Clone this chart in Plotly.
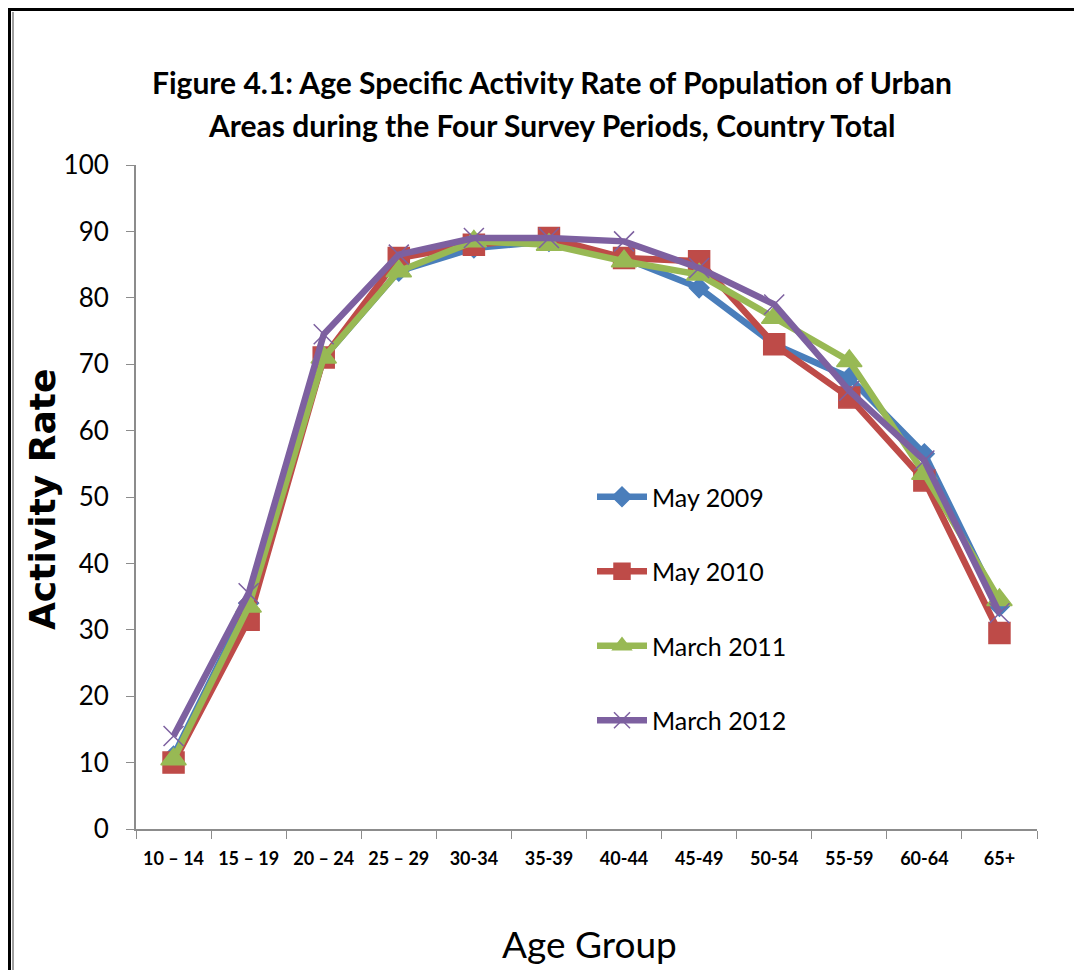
import plotly.graph_objects as go

# Age groups on the x axis
age_groups = ["10 \u2013 14", "15 \u2013 19", "20 \u2013 24", "25 \u2013 29", "30-34", "35-39",
              "40-44", "45-49", "50-54", "55-59", "60-64", "65+"]

# Activity rate per survey
may_2009 = [11, 34, 71, 84, 87.5, 88.5, 86, 81.5, 73, 68, 56.5, 33.5]
may_2010 = [10, 31.5, 71, 86, 88, 89, 86, 85.5, 73, 65, 52.5, 29.5]
march_2011 = [10.5, 33.5, 71, 84, 88.5, 88, 85.5, 83.5, 77, 70.5, 53.5, 34.5]
march_2012 = [14, 35.5, 74.5, 86.5, 89, 89, 88.5, 84.5, 79, 66, 55.5, 32.5]

FONT = "Lato, Open Sans, sans-serif"
OFF = 8  # page body margin
W, H = 1082 - OFF, 970 - OFF
PL, PR, PT, PB = 136, 1037, 165, 829   # plot area in page pixels

fig = go.Figure()

series = [
    ("May 2009", may_2009, "#4A7EBB", "diamond", 15),
    ("May 2010", may_2010, "#BE4B48", "square", 21),
    ("March 2011", march_2011, "#98B954", "triangle-up", 22),
    ("March 2012", march_2012, "#7D60A0", "x-thin-open", 20),
]
for name, vals, col, sym, sz in series:
    fig.add_trace(go.Scatter(
        x=age_groups, y=vals, name=name, legendgroup=name,
        mode="lines+markers",
        line=dict(color=col, width=6.5),
        marker=dict(symbol=sym, size=sz, color=col, line=dict(color=col, width=1.5)),
    ))

# page pixels -> paper coords
def px(x):
    return (x - PL) / (PR - PL)

def py(y):
    return (PB - y) / (PB - PT)

def note(text, x, y, size, family=FONT, angle=0):
    return dict(text=text, x=px(x), y=py(y), xref="paper", yref="paper",
                xanchor="center", yanchor="middle", showarrow=False, textangle=angle,
                font=dict(family=family, size=size, color="black"))

annotations = [
    note("<b>Figure 4.1: Age Specific Activity Rate of Population of Urban</b>", 552, 82, 30),
    note("<b>Areas during the Four Survey Periods, Country Total</b>", 552, 125, 30),
    note("<b>Activity Rate</b>", 42, 500, 36, family="DejaVu Sans, sans-serif", angle=-90),
    note("Age Group", 589, 943, 37),
]

# outer frame
def seg(x0, y0, x1, y1, color, w):
    return dict(type="line", xref="paper", yref="paper", x0=px(x0), x1=px(x1),
                y0=py(y0), y1=py(y1), line=dict(color=color, width=w))

shapes = [
    seg(9.5, 9, 9.5, 980, "black", 3),
    seg(13, 12, 13, 980, "#808080", 1.5),
    seg(8, 9.5, 1090, 9.5, "black", 3),
    seg(1077, 9, 1077, 980, "black", 2),
]

fig.update_layout(
    width=W, height=H,
    margin=dict(l=PL - OFF, r=W + OFF - PR, t=PT - OFF, b=H + OFF - PB, autoexpand=False),
    plot_bgcolor="white", paper_bgcolor="white",
    font=dict(family=FONT, color="black"),
    annotations=annotations,
    shapes=shapes,
    legend=dict(x=px(592), y=py(474), xanchor="left", yanchor="top",
                font=dict(family=FONT, size=25, color="black"),
                bgcolor="rgba(0,0,0,0)", tracegroupgap=39, itemwidth=50),
    xaxis=dict(type="category", range=[-0.5, 11.5], showgrid=False, zeroline=False,
               automargin=False, showline=True, linecolor="#8c8c8c", linewidth=2,
               ticks="outside", tickson="boundaries", ticklen=8, tickcolor="#8c8c8c",
               ticklabelstandoff=12,
               tickfont=dict(family=FONT, size=18, color="black", weight="bold")),
    yaxis=dict(range=[0, 100], dtick=10, showgrid=False, zeroline=False, automargin=False,
               showline=True, linecolor="#8c8c8c", linewidth=2,
               ticks="outside", ticklen=8, tickcolor="#8c8c8c",
               ticklabelstandoff=12,
               tickfont=dict(family=FONT, size=26, color="black")),
)

fig.write_html("out.html")
